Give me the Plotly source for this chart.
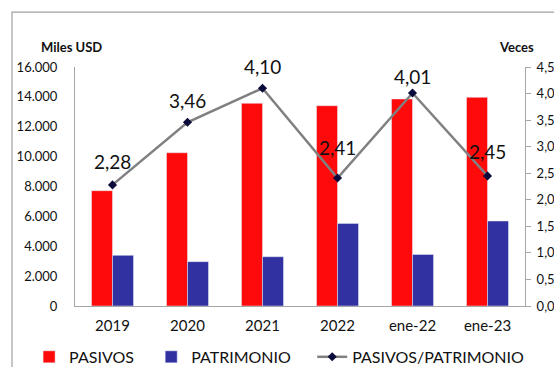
import plotly.graph_objects as go

periodos = ["2019", "2020", "2021", "2022", "ene-22", "ene-23"]
pasivos = [7720, 10260, 13570, 13410, 13860, 13970]
patrimonio = [3390, 2970, 3300, 5530, 3450, 5690]
ratio = [2.28, 3.46, 4.10, 2.41, 4.01, 2.45]

left_ticks = [0, 2000, 4000, 6000, 8000, 10000, 12000, 14000, 16000]
right_ticks = [0, 0.5, 1.0, 1.5, 2.0, 2.5, 3.0, 3.5, 4.0, 4.5]

# how far (px) each ratio label sits above its marker
label_shift = [23, 22, 22, 31, 17, 24]

font_family = "Lato, Open Sans, sans-serif"
pad = "\u00a0"  # invisible padding to widen gaps between legend entries

fig = go.Figure()
fig.add_trace(go.Bar(x=periodos, y=pasivos, name="PASIVOS" + pad * 3,
                     marker_color="#FF0A0A"))
fig.add_trace(go.Bar(x=periodos, y=patrimonio, name="PATRIMONIO" + pad * 4,
                     marker_color="#3131A1"))
fig.add_trace(go.Scatter(
    x=periodos, y=ratio, name="PASIVOS/PATRIMONIO", yaxis="y2",
    mode="lines+markers",
    line=dict(color="#808080", width=2.5),
    marker=dict(symbol="diamond", size=7, color="#0B0B3B"),
    cliponaxis=False,
))

labels = [
    dict(x=i, y=r, xref="x", yref="y2", text=f"{r:.2f}".replace(".", ","),
         showarrow=False, yshift=s, xanchor="center", yanchor="middle",
         font=dict(size=19, color="#111111"))
    for i, (r, s) in enumerate(zip(ratio, label_shift))
]

fig.update_layout(
    width=554, height=367,
    margin=dict(l=75, r=29, t=67, b=61, autoexpand=False),
    paper_bgcolor="white", plot_bgcolor="white",
    separators=",.",
    font=dict(family=font_family, color="#111111"),
    barmode="group", bargap=0.44, bargroupgap=0,
    showlegend=True,
    legend=dict(orientation="h", x=-0.102, xanchor="left", y=-0.213, yanchor="middle",
                font=dict(size=16), traceorder="normal", itemwidth=30),
    xaxis=dict(type="category", showline=True, linecolor="#A6A6A6", linewidth=1,
               ticks="", tickfont=dict(size=15), ticklabelstandoff=6, automargin=False),
    yaxis=dict(range=[0, 16000], tickvals=left_ticks, tickformat=",.0f",
               showline=True, linecolor="#A6A6A6", showgrid=False, zeroline=False,
               ticks="", tickfont=dict(size=13), ticklabelstandoff=14, automargin=False),
    yaxis2=dict(range=[0, 4.5], tickvals=right_ticks, tickformat=".2f",
                overlaying="y", side="right", showline=True, linecolor="#A6A6A6",
                showgrid=False, zeroline=False, ticks="outside", ticklen=5,
                tickcolor="#A6A6A6", tickfont=dict(size=13), ticklabelstandoff=3,
                automargin=False),
    annotations=labels + [
        dict(text="<b>Miles USD</b>", x=-0.007, y=1.084, xref="paper", yref="paper",
             xanchor="center", yanchor="middle", showarrow=False, font=dict(size=13)),
        dict(text="<b>Veces</b>", x=0.982, y=1.084, xref="paper", yref="paper",
             xanchor="center", yanchor="middle", showarrow=False, font=dict(size=13)),
    ],
    shapes=[
        dict(type="rect", xref="paper", yref="paper", x0=-0.14, x1=1.3, y0=-0.6, y1=1.23,
             line=dict(color="#A0A0A0", width=1.2), layer="below"),
    ],
)

fig.write_html("out.html", config={"displayModeBar": False},
               post_script="document.body.style.margin = '0';")
